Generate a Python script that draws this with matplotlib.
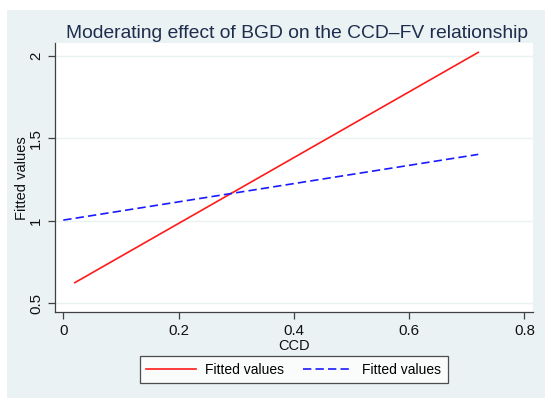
import matplotlib
matplotlib.use("Agg")
import matplotlib.pyplot as plt
from matplotlib.patches import Rectangle

# fitted lines
ccd_red = [0.02, 0.72]
fit_red = [0.625, 2.02]
ccd_blue = [0.0, 0.72]
fit_blue = [1.004, 1.402]
xticks = [0, 0.2, 0.4, 0.6, 0.8]
xticklabels = ["0", "0.2", "0.4", "0.6", "0.8"]
yticks = [0.5, 1, 1.5, 2]
yticklabels = ["0.5", "1", "1.5", "2"]

plt.rcParams["font.family"] = ["Liberation Sans", "DejaVu Sans"]

W, H = 550, 399
fig = plt.figure(figsize=(W / 100, H / 100), dpi=100)
fig.patch.set_facecolor("white")
panel = "#eaf2f3"
fig.patches.append(Rectangle((7 / W, 1 - 398 / H), (545 - 7) / W, (398 - 10) / H,
                             transform=fig.transFigure, facecolor=panel,
                             edgecolor="none", zorder=-10))

ax = fig.add_axes([54.7 / W, 1 - 312.3 / H, (533 - 54.7) / W, (312.3 - 43.3) / H])
ax.set_facecolor("white")
ax.set_xlim(-0.0149, 0.815)
ax.set_ylim(0.4455, 2.075)
for y in yticks:
    ax.axhline(y, color=panel, lw=1.0, zorder=0)

ax.plot(ccd_red, fit_red, color="#ff1a1a", lw=1.2, label="Fitted values")
ax.plot(ccd_blue, fit_blue, color="#1a1aff", lw=1.2, ls=(0, (5, 2.5)), label="Fitted values")

for s in ["top", "right"]:
    ax.spines[s].set_visible(False)
for s in ["left", "bottom"]:
    ax.spines[s].set_color("#404040")
    ax.spines[s].set_linewidth(0.9)

ax.set_xticks(xticks)
ax.set_xticklabels(xticklabels)
ax.set_yticks(yticks)
ax.set_yticklabels(yticklabels, rotation=90, va="center")
ax.tick_params(axis="both", direction="out", length=5, width=0.9, color="#404040",
               labelsize=10.8, labelcolor="#111111", pad=3.5)

ax.set_xlabel("CCD", fontsize=10.5, color="#111111")
ax.xaxis.set_label_coords(0.5, -(338.5 - 312.3) / 269.0)
ax.set_ylabel("Fitted values", fontsize=10.5, color="#111111")
ax.yaxis.set_label_coords(-(54.7 - 28.5) / 478.3, 0.5)

fig.text(297 / W, 1 - 33.5 / H, "Moderating effect of BGD on the CCD\u2013FV relationship",
         ha="center", va="center", fontsize=13.9, color="#1e2d4d")

leg = fig.legend(loc="center", bbox_to_anchor=(293.5 / W, 1 - 369.5 / H), ncol=2,
                 fontsize=10, frameon=True, fancybox=False, handlelength=3.6,
                 columnspacing=1.4, borderpad=0.45, handletextpad=0.65)
leg.get_frame().set_edgecolor("#222222")
leg.get_frame().set_linewidth(0.9)
leg.get_frame().set_facecolor("white")

fig.savefig("out.png", dpi=100)
